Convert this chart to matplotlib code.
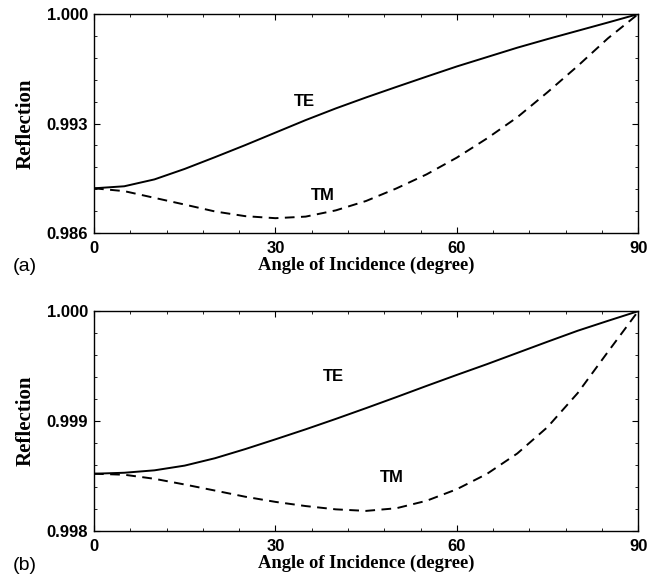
import numpy as np
import matplotlib
matplotlib.use("Agg")
import matplotlib.pyplot as plt
from matplotlib.ticker import AutoMinorLocator

angle = [0, 5, 10, 15, 20, 25, 30, 35, 40, 45, 50, 55, 60, 65, 70, 75, 80, 85, 90]

# panel (a)
te_a = [0.98886, 0.98899, 0.98943, 0.99010, 0.99085, 0.99162, 0.99242,
        0.99322, 0.99397, 0.99467, 0.99534, 0.99600, 0.99665, 0.99725,
        0.99785, 0.99840, 0.99893, 0.99946, 1.00000]
tm_a = [0.98886, 0.98868, 0.98825, 0.98782, 0.98738, 0.98708, 0.98695,
        0.98705, 0.98745, 0.98805, 0.98885, 0.98975, 0.99082, 0.99205,
        0.99340, 0.99500, 0.99668, 0.99845, 1.00000]

# panel (b)
te_b = [0.998521, 0.998530, 0.998552, 0.998595, 0.998662, 0.998745,
        0.998834, 0.998925, 0.999020, 0.999118, 0.999218, 0.999320,
        0.999420, 0.999518, 0.999620, 0.999722, 0.999822, 0.999912, 1.000000]
tm_b = [0.998521, 0.998512, 0.998475, 0.998423, 0.998368, 0.998312,
        0.998265, 0.998227, 0.998197, 0.998183, 0.998207, 0.998275,
        0.998380, 0.998520, 0.998705, 0.998945, 0.999255, 0.999630, 1.000000]

panels = [
    dict(te=te_a, tm=tm_a, ylim=(0.986, 1.000), yticks=[0.986, 0.993, 1.000],
         te_lab=(34.8, 0.99438), tm_lab=(37.9, 0.98838), tag="(a)",
         rect=[0.142, 0.594, 0.822, 0.3815]),
    dict(te=te_b, tm=tm_b, ylim=(0.998, 1.000), yticks=[0.998, 0.999, 1.000],
         te_lab=(39.6, 0.999402), tm_lab=(49.3, 0.998488), tag="(b)",
         rect=[0.142, 0.0749, 0.822, 0.383]),
]

fig = plt.figure(figsize=(6.62, 5.74), dpi=100)

for p in panels:
    ax = fig.add_axes(p["rect"])
    ax.plot(angle, p["te"], color="black", lw=1.4)
    ax.plot(angle, p["tm"], color="black", lw=1.4, ls=(0, (5, 3.3)))
    ax.set_xlim(0, 90)
    ax.set_ylim(*p["ylim"])
    ax.set_xticks([0, 30, 60, 90])
    ax.set_yticks(p["yticks"])
    ax.set_yticklabels(["%.3f" % v for v in p["yticks"]])
    ax.xaxis.set_minor_locator(AutoMinorLocator(5))
    ax.yaxis.set_minor_locator(AutoMinorLocator(5))
    ax.tick_params(which="both", direction="in", top=True, right=True)
    ax.tick_params(which="major", length=4, width=0.8)
    ax.tick_params(which="minor", length=2, width=0.6)
    ax.tick_params(axis="x", which="major", pad=5.5)
    ax.tick_params(axis="y", which="major", pad=4.5)
    for lab in ax.get_xticklabels() + ax.get_yticklabels():
        lab.set_fontfamily("Liberation Sans")
        lab.set_fontweight("bold")
        lab.set_fontsize(12)
    ax.set_xlabel("Angle of Incidence (degree)", family="Liberation Serif",
                  fontweight="bold", fontsize=13.3)
    ax.set_ylabel("Reflection", family="Liberation Serif",
                  fontweight="bold", fontsize=15)
    ax.xaxis.set_label_coords(0.5, -0.108)
    ax.yaxis.set_label_coords(-0.108, 0.5)
    ax.text(*p["te_lab"], "TE", family="Liberation Sans", fontweight="bold",
            fontsize=12, ha="center", va="center")
    ax.text(*p["tm_lab"], "TM", family="Liberation Sans", fontweight="bold",
            fontsize=12, ha="center", va="center")
    ax.text(-0.15, -0.155, p["tag"], transform=ax.transAxes,
            family="Liberation Sans", fontsize=14, ha="left", va="center")
    for s in ax.spines.values():
        s.set_linewidth(1.0)

fig.savefig("out.png", dpi=100)
